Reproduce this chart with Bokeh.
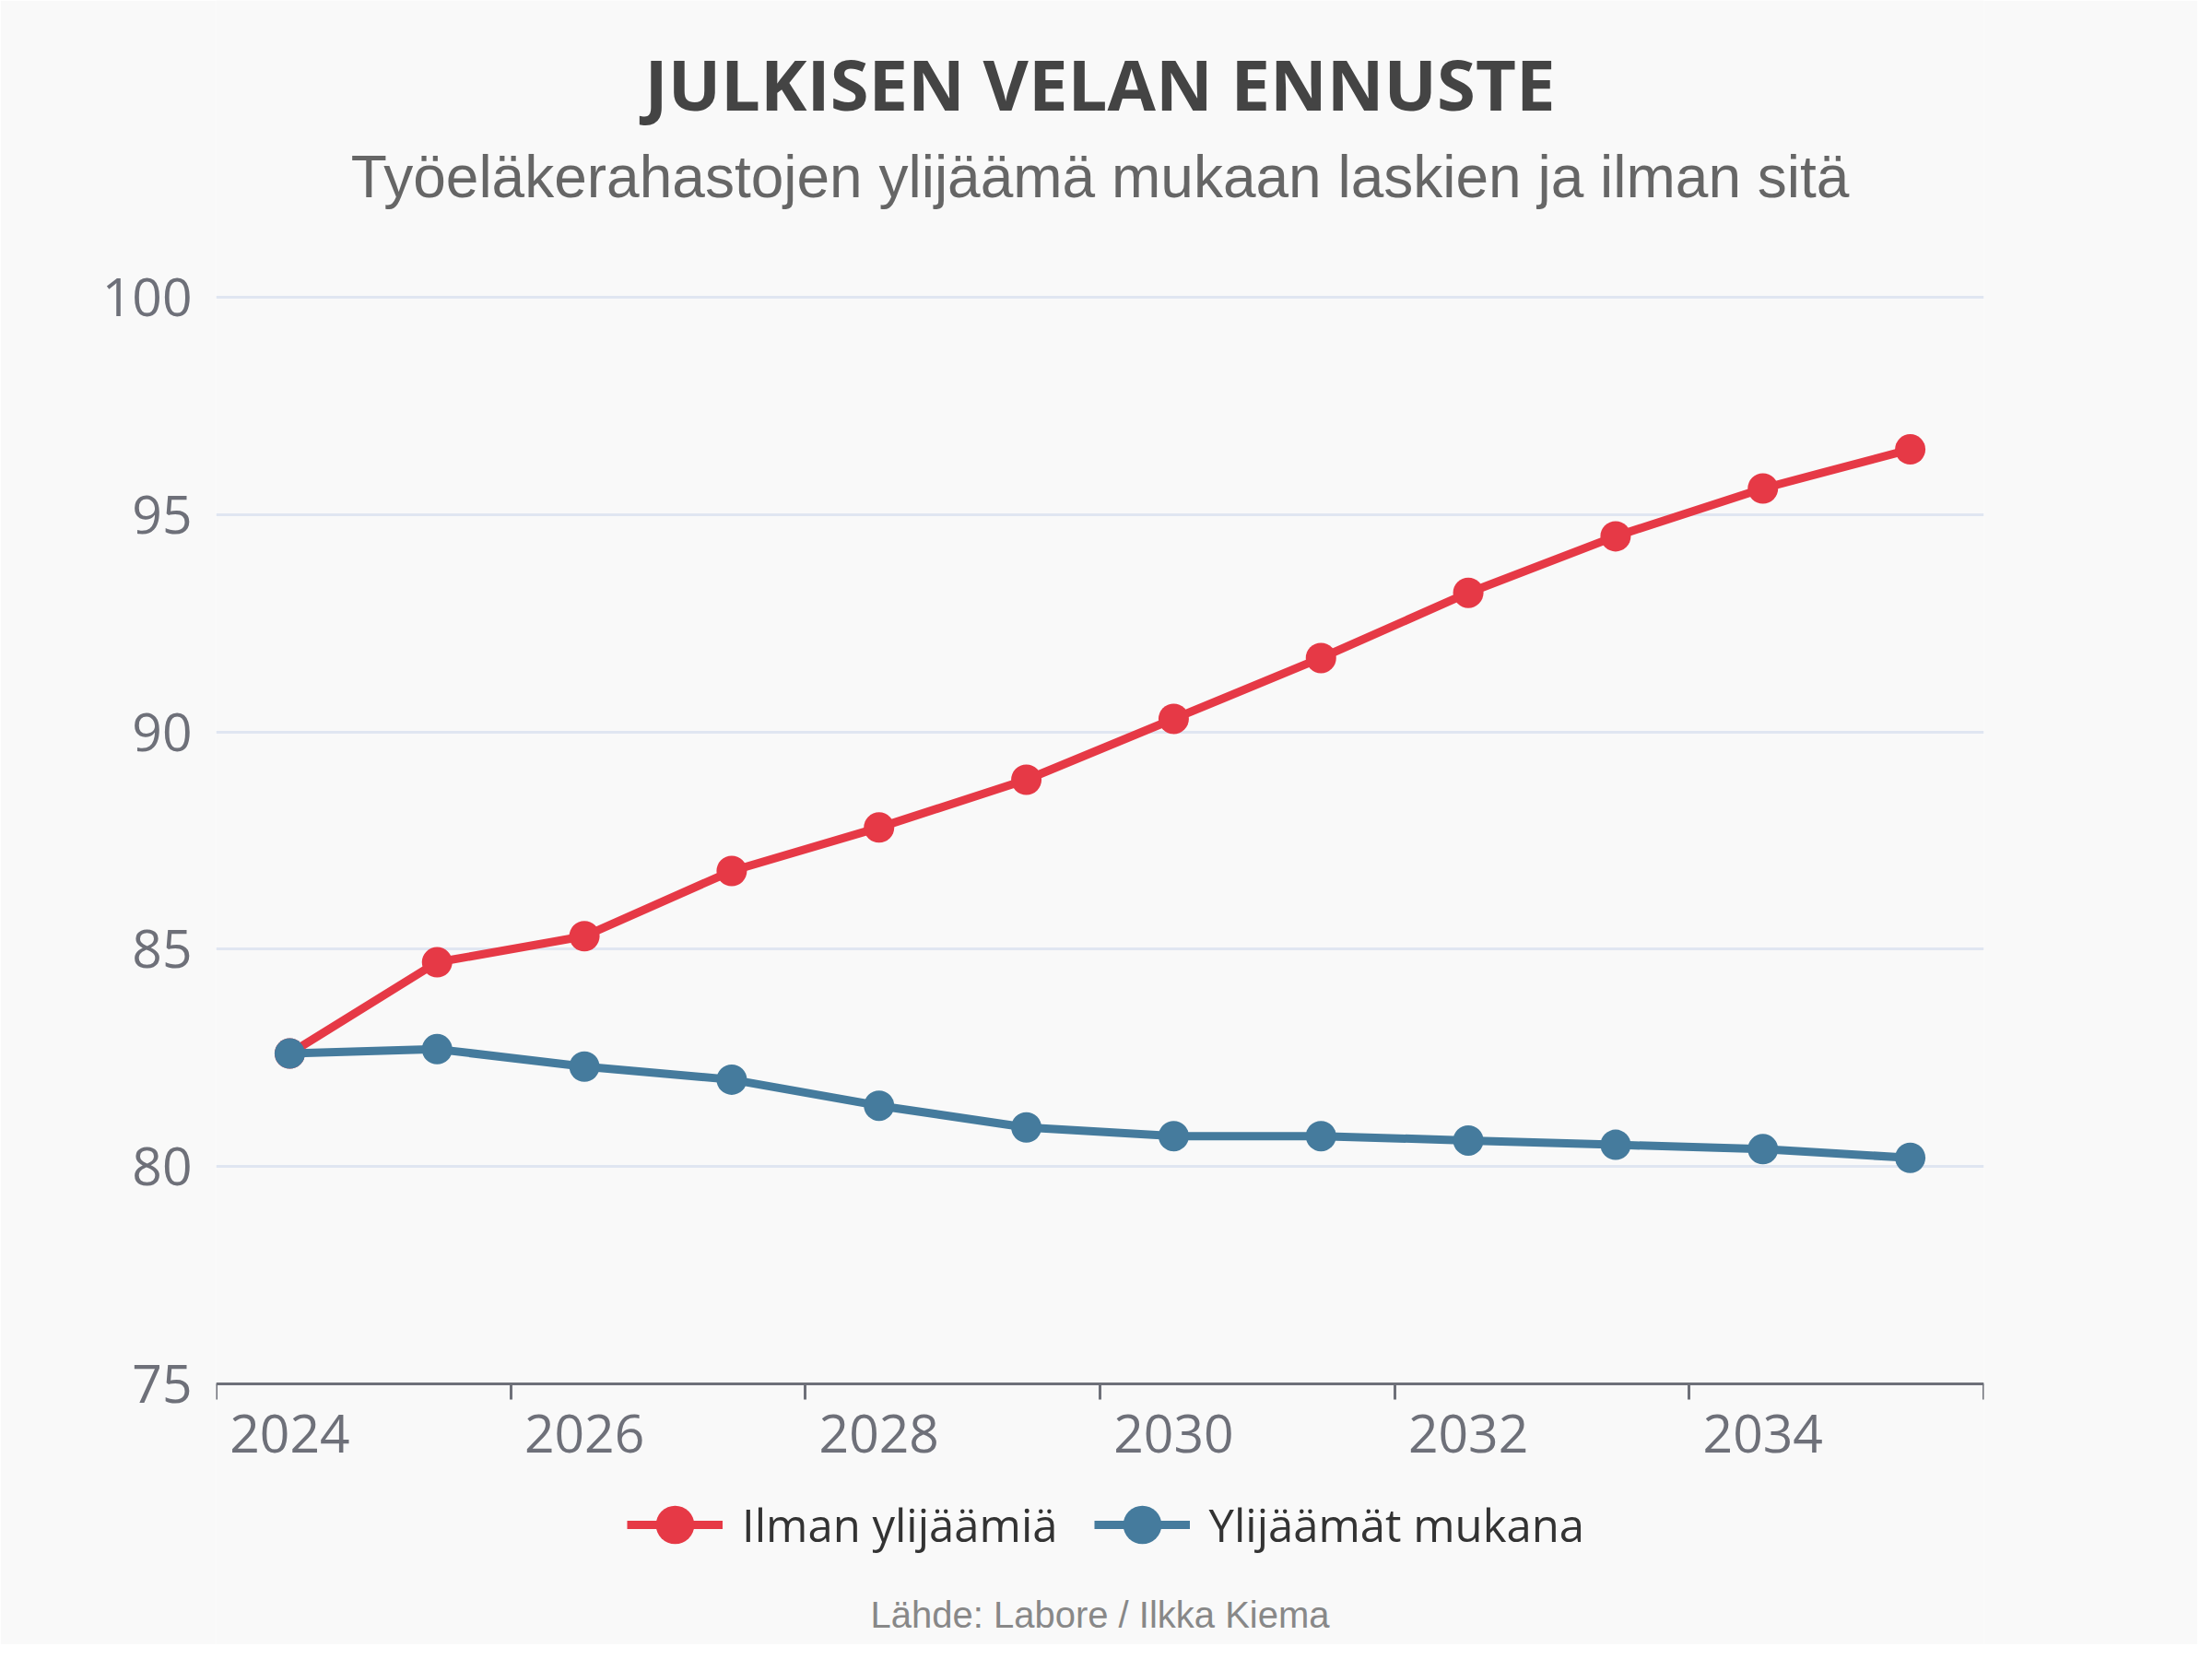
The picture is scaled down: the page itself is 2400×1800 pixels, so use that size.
from bokeh.plotting import figure
from bokeh.models import Range1d, FixedTicker, Legend, LegendItem, Label, ColumnDataSource
from bokeh.embed import file_html
from bokeh.resources import INLINE

# ---- data ----
years = [2024, 2025, 2026, 2027, 2028, 2029, 2030, 2031, 2032, 2033, 2034, 2035]
ilman_ylijaamia = [82.6, 84.7, 85.3, 86.8, 87.8, 88.9, 90.3, 91.7, 93.2, 94.5, 95.6, 96.5]
ylijaamat_mukana = [82.6, 82.7, 82.3, 82.0, 81.4, 80.9, 80.7, 80.7, 80.6, 80.5, 80.4, 80.2]
series_names = ["Ilman ylijäämiä", "Ylijäämät mukana"]
y_ticks = [75, 80, 85, 90, 95, 100]
x_label_years = [2024, 2026, 2028, 2030, 2032, 2034]
title_text = "JULKISEN VELAN ENNUSTE"
subtitle_text = "Työeläkerahastojen ylijäämä mukaan laskien ja ilman sitä"
source_text = "Lähde: Labore / Ilkka Kiema"

RED = "#e63946"
BLUE = "#457b9d"
BG = "#f9f9f9"
AXIS_GREY = "#6e7079"

# ---- layout (pixels inside the figure) ----
W, H = 2384, 1784
ML, MR = 234, 232
PLOT_TOP, PLOT_BOTTOM = 322, 1501          # where y=100 and y=75 sit
px_per_unit = (PLOT_BOTTOM - PLOT_TOP) / (y_ticks[-1] - y_ticks[0])
y_lo = y_ticks[0] - (H - PLOT_BOTTOM) / px_per_unit
y_hi = y_ticks[-1] + PLOT_TOP / px_per_unit

p = figure(width=W, height=H, output_backend="svg", toolbar_location=None,
           x_range=Range1d(years[0] - 0.5, years[-1] + 0.5),
           y_range=Range1d(y_lo, y_hi),
           min_border_left=ML, min_border_right=MR,
           min_border_top=0, min_border_bottom=0,
           background_fill_color=BG, border_fill_color=BG,
           outline_line_color=None)

src = ColumnDataSource(dict(x=years, a=ilman_ylijaamia, b=ylijaamat_mukana))

r1l = p.line("x", "a", source=src, line_color=RED, line_width=9)
r1s = p.scatter("x", "a", source=src, size=33, fill_color=RED, line_color=RED, line_width=0)
r2l = p.line("x", "b", source=src, line_color=BLUE, line_width=9)
r2s = p.scatter("x", "b", source=src, size=33, fill_color=BLUE, line_color=BLUE, line_width=0)

# grid
p.xgrid.grid_line_color = None
p.ygrid.ticker = FixedTicker(ticks=y_ticks)
p.ygrid.grid_line_color = "#e0e6f1"
p.ygrid.grid_line_width = 3

# y axis
p.yaxis.ticker = FixedTicker(ticks=y_ticks)
p.yaxis.axis_line_color = None
p.yaxis.major_tick_line_color = None
p.yaxis.minor_tick_line_color = None
p.yaxis.major_tick_out = 0
p.yaxis.major_tick_in = 0
p.yaxis.major_label_standoff = 26
p.yaxis.major_label_text_font = "Open Sans"
p.yaxis.major_label_text_font_size = "57px"
p.yaxis.major_label_text_color = AXIS_GREY

# x axis drawn at y=75: labels at every other year, tick marks at band boundaries
boundaries = [y - 0.5 for y in years[::2]] + [years[-1] + 0.5]
p.xaxis.fixed_location = y_ticks[0]
p.xaxis.ticker = FixedTicker(ticks=x_label_years, minor_ticks=boundaries)
p.xaxis.axis_line_color = AXIS_GREY
p.xaxis.axis_line_width = 3
p.xaxis.major_tick_line_color = None
p.xaxis.major_tick_out = 17
p.xaxis.major_tick_in = 0
p.xaxis.minor_tick_line_color = AXIS_GREY
p.xaxis.minor_tick_line_width = 3
p.xaxis.minor_tick_out = 17
p.xaxis.minor_tick_in = 0
p.xaxis.major_label_standoff = 16
p.xaxis.major_label_text_font = "Open Sans"
p.xaxis.major_label_text_font_size = "57px"
p.xaxis.major_label_text_color = AXIS_GREY

# legend under the axis (screen units from the frame's bottom-left corner)
legend = Legend(items=[LegendItem(label=series_names[0], renderers=[r1l, r1s]),
                       LegendItem(label=series_names[1], renderers=[r2l, r2s])],
                orientation="horizontal", location=(446, 75),
                glyph_width=104, glyph_height=110, label_standoff=21, spacing=39,
                padding=0, margin=0, background_fill_alpha=0, border_line_color=None,
                label_text_font="Open Sans", label_text_font_size="49px",
                label_text_color="#333333")
p.add_layout(legend, "center")

# texts
cx = (W - ML - MR) / 2
p.add_layout(Label(x=cx, y=H - 90, x_units="screen", y_units="screen", text=title_text,
                   text_align="center", text_baseline="alphabetic",
                   text_font="Open Sans", text_font_style="bold",
                   text_font_size="76px", text_color="#444444"))
p.add_layout(Label(x=cx, y=H - 191, x_units="screen", y_units="screen", text=subtitle_text,
                   text_align="center", text_baseline="alphabetic",
                   text_font="Liberation Sans", text_font_size="64px",
                   text_color="#666666"))
p.add_layout(Label(x=cx, y=H - 1751, x_units="screen", y_units="screen", text=source_text,
                   text_align="center", text_baseline="alphabetic",
                   text_font="Liberation Sans", text_font_size="40px",
                   text_color="#888888"))

open("out.html", "w").write(file_html(p, INLINE))
